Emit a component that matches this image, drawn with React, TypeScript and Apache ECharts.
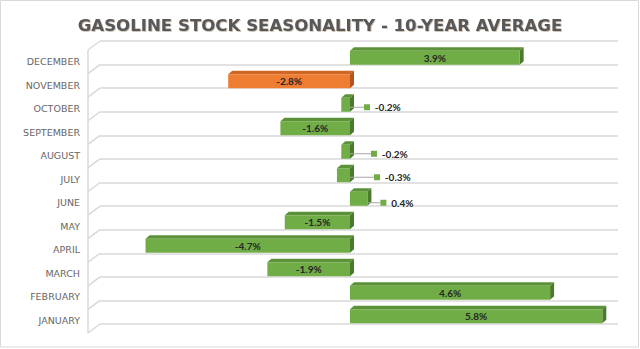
import React, { useEffect, useRef } from "react";
import * as echarts from "echarts";

const categories = [
  "JANUARY", "FEBRUARY", "MARCH", "APRIL", "MAY", "JUNE",
  "JULY", "AUGUST", "SEPTEMBER", "OCTOBER", "NOVEMBER", "DECEMBER",
];
const values = [5.8, 4.6, -1.9, -4.7, -1.5, 0.4, -0.3, -0.2, -1.6, -0.2, -2.8, 3.9];
const highlightedMonths = ["NOVEMBER"];
const calloutMonths = ["JUNE", "JULY", "AUGUST", "OCTOBER"];
const titleText = "GASOLINE STOCK SEASONALITY - 10-YEAR AVERAGE";

// styling (label displacement for callouts, in px)
const calloutShift: Record<string, [number, number]> = {
  JUNE: [8, 4],
  JULY: [19, 2],
  AUGUST: [16, 2],
  OCTOBER: [9, 2.5],
};

const GREEN = { front: "#70AD47", top: "#5B9237", side: "#4A7A2C" };
const ORANGE = { front: "#ED7D31", top: "#CF6624", side: "#B3541A" };

function colorsFor(i: number) {
  return highlightedMonths.includes(categories[i]) ? ORANGE : GREEN;
}

export default function App() {
  const ref = useRef<HTMLDivElement>(null);
  useEffect(() => {
    document.body.style.margin = "0";
    if (!ref.current) return;
    const chart = echarts.init(ref.current, null, { renderer: "svg" });
    const fmt = (v: number) => v.toFixed(1) + "%";

    const barData = values.map((v, i) => {
      const c = colorsFor(i);
      const item: any = { value: v, itemStyle: { color: c.front } };
      if (calloutMonths.includes(categories[i])) {
        item.label = {
          show: true,
          position: "right",
          distance: 5,
          formatter: "{m| }  {t|" + fmt(v) + "}",
          rich: {
            m: { width: 6, height: 6, backgroundColor: c.front },
            t: { fontFamily: "Lato", fontWeight: "bold", fontSize: 10, color: "#262626" },
          },
        };
        item.labelLine = { show: true, lineStyle: { color: "#A6A6A6", width: 1 } };
      }
      return item;
    });

    const option: any = {
      animation: false,
      backgroundColor: "#FFFFFF",
      title: {
        text: titleText,
        left: "center",
        top: 12,
        textStyle: {
          fontFamily: "DejaVu Sans",
          fontWeight: "bold",
          fontSize: 16.6,
          color: "#595959",
          textShadowColor: "rgba(120,80,40,0.45)",
          textShadowBlur: 1,
          textShadowOffsetX: 0.7,
          textShadowOffsetY: 0.7,
        },
      },
      graphic: [
        {
          type: "rect",
          shape: { x: 0.5, y: 0.5, width: 638, height: 346.5 },
          style: { fill: "none", stroke: "#D9D9D9", lineWidth: 1 },
          silent: true,
        },
      ],
      grid: [
        { left: 100, right: 22, top: 41, bottom: 25 },
        { left: 89, right: 29, top: 46, bottom: 21 },
      ],
      xAxis: [
        { gridIndex: 0, type: "value", min: -1, max: 1, show: false },
        { gridIndex: 1, type: "value", min: -6, max: 6, show: false },
      ],
      yAxis: [
        {
          gridIndex: 0,
          type: "category",
          data: categories,
          axisLine: { show: false },
          axisTick: { show: false },
          axisLabel: { show: false },
          splitLine: { show: true, lineStyle: { color: "#D9D9D9", width: 1.5 } },
        },
        {
          gridIndex: 1,
          type: "category",
          data: categories,
          axisLine: { show: false },
          axisTick: { show: false },
          splitLine: { show: false },
          axisLabel: {
            margin: 9,
            verticalAlign: "top",
            lineHeight: 8,
            fontFamily: "DejaVu Sans",
            fontSize: 9.5,
            color: "#666666",
          },
        },
      ],
      series: [
        {
          type: "custom",
          xAxisIndex: 0,
          yAxisIndex: 0,
          silent: true,
          clip: false,
          data: [[0, 0]],
          renderItem: (params: any, api: any) => {
            const c0 = api.coord([-1, 0]);
            const band = api.size([0, 1])[1];
            const x = c0[0];
            const bottom = c0[1] + band / 2;
            const children: any[] = [];
            const ls = { stroke: "#D9D9D9", lineWidth: 1.5 };
            for (let k = 0; k <= categories.length; k++) {
              const yb = bottom - k * band;
              children.push({
                type: "line",
                shape: { x1: x - 12, y1: yb + 9, x2: x, y2: yb },
                style: ls,
              });
            }
            const top = bottom - categories.length * band;
            children.push({
              type: "line",
              shape: { x1: x - 12, y1: top + 9, x2: x - 12, y2: bottom + 9 },
              style: ls,
            });
            return { type: "group", children };
          },
          z: 1,
        },
        {
          type: "bar",
          xAxisIndex: 1,
          yAxisIndex: 1,
          barWidth: 14,
          data: barData,
          label: {
            show: true,
            position: "inside",
            fontFamily: "Lato",
            fontWeight: "bold",
            fontSize: 10,
            color: "#262626",
            formatter: (p: any) => fmt(p.value),
          },
          labelLayout: (p: any) => {
            const s = calloutShift[categories[p.dataIndex]];
            if (!s) return {};
            return { dx: s[0], dy: s[1] };
          },
          z: 3,
        },
        {
          type: "custom",
          xAxisIndex: 1,
          yAxisIndex: 1,
          silent: true,
          clip: false,
          data: values.map((v, i) => [v, i]),
          encode: { x: 0, y: 1 },
          renderItem: (params: any, api: any) => {
            const v = api.value(0);
            const i = params.dataIndex;
            const p0 = api.coord([0, i]);
            const p1 = api.coord([v, i]);
            const xl = Math.min(p0[0], p1[0]);
            const xr = Math.max(p0[0], p1[0]);
            const yc = p0[1];
            const h = 7;
            const dx = 4;
            const dy = -3.5;
            const c = colorsFor(i);
            return {
              type: "group",
              children: [
                {
                  type: "polygon",
                  shape: {
                    points: [
                      [xl, yc - h],
                      [xr, yc - h],
                      [xr + dx, yc - h + dy],
                      [xl + dx, yc - h + dy],
                    ],
                  },
                  style: { fill: c.top },
                },
                {
                  type: "polygon",
                  shape: {
                    points: [
                      [xr, yc - h],
                      [xr + dx, yc - h + dy],
                      [xr + dx, yc + h + dy],
                      [xr, yc + h],
                    ],
                  },
                  style: { fill: c.side },
                },
              ],
            };
          },
          z: 2,
        },
      ],
    };
    chart.setOption(option);
    return () => chart.dispose();
  }, []);
  return <div ref={ref} style={{ width: 640, height: 349 }} />;
}
